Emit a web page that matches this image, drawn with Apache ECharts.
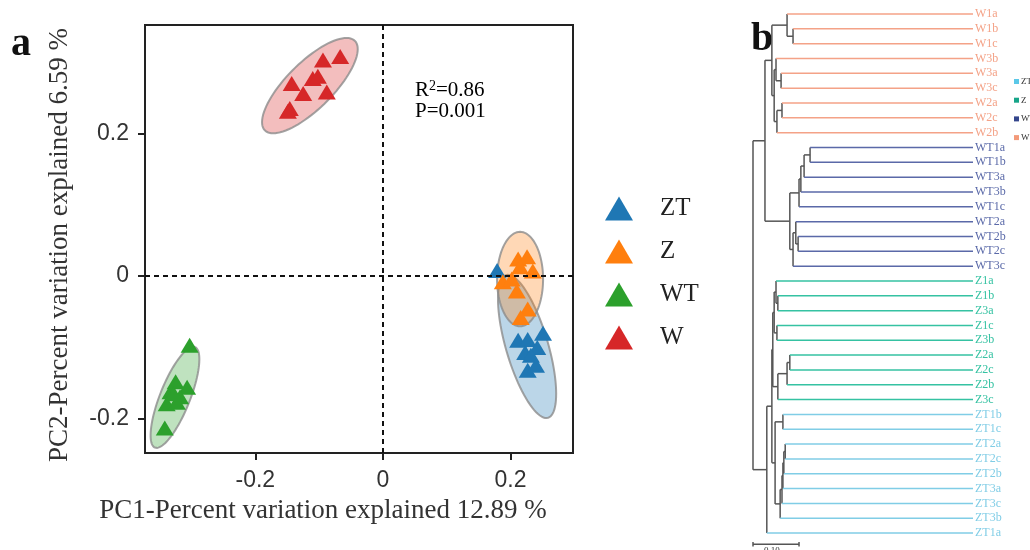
<!DOCTYPE html>
<html>
<head>
<meta charset="utf-8">
<script src="https://cdn.jsdelivr.net/npm/echarts@6/dist/echarts.min.js"></script>
<style>
html,body{margin:0;padding:0;background:#fff;}
#main{width:1030px;height:550px;}
</style>
</head>
<body>
<div id="main"></div>
<script>
// ---- panel a : PCA ----
var groups = ['ZT', 'Z', 'WT', 'W'];
var groupColors = ['#1f77b4', '#ff7f0e', '#2ca02c', '#d62728'];

var ptsZT = [[0.179,0.008],[0.212,-0.090],[0.227,-0.089],[0.251,-0.080],[0.223,-0.107],[0.242,-0.100],[0.227,-0.132],[0.240,-0.125],[0.232,-0.111]];
var ptsZ  = [[0.212,0.024],[0.226,0.027],[0.215,0.013],[0.235,0.007],[0.188,-0.008],[0.202,-0.004],[0.210,-0.021],[0.227,-0.046],[0.216,-0.058]];
var ptsWT = [[-0.303,-0.097],[-0.325,-0.148],[-0.307,-0.156],[-0.333,-0.162],[-0.318,-0.169],[-0.339,-0.179],[-0.323,-0.177],[-0.328,-0.165],[-0.342,-0.213]];
var ptsW  = [[-0.067,0.308],[-0.094,0.303],[-0.110,0.277],[-0.102,0.280],[-0.143,0.270],[-0.125,0.256],[-0.088,0.258],[-0.146,0.235],[-0.149,0.231]];

// ellipse: centre x, centre y, major half-axis (dx,dy), minor half-axis (dx,dy)
var ellZT = [0.226, -0.0986, 0.0329, -0.100, 0.0316, 0.0084];
var ellZ  = [0.215, -0.0042, 0.0, 0.0662, 0.0361, 0.0];
var ellWT = [-0.326, -0.170, 0.0314, 0.0704, 0.0218, -0.0079];
var ellW  = [-0.1145, 0.267, 0.0706, 0.0627, 0.0254, -0.0231];

var xTicks = [-0.2, 0, 0.2];
var yTicks = [-0.2, 0, 0.2];

// ---- panel b : dendrogram ----
var leaves = ['W1a','W1b','W1c','W3b','W3a','W3c','W2a','W2c','W2b',
  'WT1a','WT1b','WT3a','WT3b','WT1c','WT2a','WT2b','WT2c','WT3c',
  'Z1a','Z1b','Z3a','Z1c','Z3b','Z2a','Z2c','Z2b','Z3c',
  'ZT1b','ZT1c','ZT2a','ZT2c','ZT2b','ZT3a','ZT3c','ZT3b','ZT1a'];
// [node, child, child, distance from root]
var treeNodes = [
  ['w1bc','W1b','W1c',0.087],
  ['w1','W1a','w1bc',0.074],
  ['w3ac','W3a','W3c',0.061],
  ['w3','W3b','w3ac',0.050],
  ['w2ac','W2a','W2c',0.063],
  ['w2','w2ac','W2b',0.052],
  ['w32','w3','w2',0.046],
  ['wRoot','w1','w32',0.041],
  ['wt1ab','WT1a','WT1b',0.124],
  ['wt1ab3a','wt1ab','WT3a',0.111],
  ['wtc','wt1ab3a','WT3b',0.104],
  ['wtd','wtc','WT1c',0.100],
  ['wt2bc','WT2b','WT2c',0.098],
  ['wt2','WT2a','wt2bc',0.093],
  ['wtg','wt2','WT3c',0.087],
  ['wtRoot','wtd','wtg',0.080],
  ['wwt','wRoot','wtRoot',0.026],
  ['z1','Z1b','Z3a',0.054],
  ['z2','Z1a','z1',0.050],
  ['z3','Z1c','Z3b',0.052],
  ['z4','z2','z3',0.046],
  ['z5','Z2a','Z2c',0.080],
  ['z6','z5','Z2b',0.074],
  ['z7','z6','Z3c',0.054],
  ['zRoot','z4','z7',0.043],
  ['t1','ZT1b','ZT1c',0.065],
  ['t2','ZT2a','ZT2c',0.070],
  ['t3','t2','ZT2b',0.067],
  ['t4','t3','ZT3a',0.065],
  ['t5','t4','ZT3c',0.063],
  ['t6','t5','ZT3b',0.059],
  ['tRoot','t1','t6',0.048],
  ['zzt','zRoot','tRoot',0.041],
  ['zzt1','zzt','ZT1a',0.030],
  ['root','wwt','zzt1',0]
];
var treeTip = 0.478;
var scaleBar = 0.10;
var treeColors = {W:'#f4a287', WT:'#5a69a8', Z:'#35c2a2', ZT:'#80cde6'};
var treeLegendNames = ['ZT','Z','WT','W'];
var treeLegendColors = ['#5bc8e8','#17a589','#34468c','#f39a7a'];

function groupOf(name) {
  if (name.indexOf('ZT') === 0) return 'ZT';
  if (name.indexOf('WT') === 0) return 'WT';
  return name.charAt(0);
}
function rgba(hex, a) {
  var n = parseInt(hex.slice(1), 16);
  return 'rgba(' + (n >> 16) + ',' + ((n >> 8) & 255) + ',' + (n & 255) + ',' + a + ')';
}

// build tree segments
var nodeMap = {};
treeNodes.forEach(function (n) { nodeMap[n[0]] = n; });
var yCache = {};
function yOf(id) {
  if (yCache[id] !== undefined) return yCache[id];
  var v;
  if (nodeMap[id]) v = (yOf(nodeMap[id][1]) + yOf(nodeMap[id][2])) / 2;
  else v = leaves.indexOf(id);
  yCache[id] = v;
  return v;
}
var segs = []; // x1,y1,x2,y2,color
treeNodes.forEach(function (n) {
  var d = n[3];
  segs.push([d, yOf(n[1]), d, yOf(n[2]), '#555']);
  [n[1], n[2]].forEach(function (c) {
    if (nodeMap[c]) segs.push([d, yOf(c), nodeMap[c][3], yOf(c), '#555']);
    else segs.push([d, yOf(c), treeTip, yOf(c), treeColors[groupOf(c)]]);
  });
});
var barY = leaves.length - 1 + 0.75;
segs.push([0, barY, scaleBar, barY, '#555']);
segs.push([0, barY - 0.15, 0, barY + 0.15, '#555']);
segs.push([scaleBar, barY - 0.15, scaleBar, barY + 0.15, '#555']);

var ellipses = [ellZT, ellZ, ellWT, ellW];
var points = [ptsZT, ptsZ, ptsWT, ptsW];

var chart = echarts.init(document.getElementById('main'));

var series = [{
  type: 'custom',
  name: 'ellipse',
  xAxisIndex: 0, yAxisIndex: 0,
  z: 1,
  data: ellipses,
  renderItem: function (params, api) {
    var e = ellipses[params.dataIndex];
    var pts = [];
    for (var k = 0; k < 90; k++) {
      var t = k / 90 * Math.PI * 2;
      pts.push(api.coord([
        e[0] + Math.cos(t) * e[2] + Math.sin(t) * e[4],
        e[1] + Math.cos(t) * e[3] + Math.sin(t) * e[5]
      ]));
    }
    return {
      type: 'polygon',
      shape: { points: pts },
      style: { fill: rgba(groupColors[params.dataIndex], 0.3), stroke: 'rgba(140,140,140,0.8)', lineWidth: 2 }
    };
  }
}];
for (var i = 0; i < groups.length; i++) {
  series.push({
    type: 'scatter',
    name: groups[i],
    xAxisIndex: 0, yAxisIndex: 0,
    z: 3,
    symbol: 'triangle',
    symbolSize: [18, 15],
    itemStyle: { color: groupColors[i], opacity: 1 },
    data: points[i]
  });
}
series.push({
  type: 'scatter',
  name: 'zero',
  xAxisIndex: 0, yAxisIndex: 0,
  z: 5,
  data: [],
  markLine: {
    silent: true,
    symbol: 'none',
    label: { show: false },
    lineStyle: { color: '#111', type: [5, 4], width: 2 },
    data: [{ xAxis: 0 }, { yAxis: 0 }]
  }
});
series.push({
  type: 'custom',
  name: 'tree',
  xAxisIndex: 1, yAxisIndex: 1,
  data: segs,
  renderItem: function (params, api) {
    var s = segs[params.dataIndex];
    var p1 = api.coord([s[0], s[1]]);
    var p2 = api.coord([s[2], s[3]]);
    return {
      type: 'line',
      shape: { x1: p1[0], y1: p1[1], x2: p2[0], y2: p2[1] },
      style: { stroke: s[4], lineWidth: 1.5 }
    };
  }
});

var serif = 'Liberation Serif';
var sans = 'Liberation Sans';

var option = {
  backgroundColor: '#fff',
  animation: false,
  grid: [
    { left: 145, top: 25, width: 428, height: 428, show: true, borderColor: '#222', borderWidth: 2, backgroundColor: 'transparent' },
    { left: 753, top: 6.6, width: 220, height: 533.9 }
  ],
  xAxis: [{
    gridIndex: 0, type: 'value', min: -0.373, max: 0.298,
    name: 'PC1-Percent variation explained 12.89 %',
    nameLocation: 'middle', nameGap: 44,
    nameTextStyle: { fontFamily: serif, fontSize: 27, color: '#333', padding: [0, 72, 0, 0] },
    axisLine: { show: true, onZero: false, lineStyle: { color: '#222', width: 2 } },
    axisTick: { show: true, length: 7, lineStyle: { color: '#222', width: 2 }, customValues: xTicks },
    axisLabel: { fontFamily: sans, fontSize: 23, color: '#333', margin: 16, customValues: xTicks },
    splitLine: { show: false }
  }, {
    gridIndex: 1, type: 'value', min: 0, max: treeTip, show: false
  }],
  yAxis: [{
    gridIndex: 0, type: 'value', min: -0.248, max: 0.352,
    name: 'PC2-Percent variation explained 6.59 %',
    nameLocation: 'middle', nameGap: 72, nameRotate: 90,
    nameTextStyle: { fontFamily: serif, fontSize: 27, color: '#333', padding: [0, 12, 0, 0] },
    axisLine: { show: true, onZero: false, lineStyle: { color: '#222', width: 2 } },
    axisTick: { show: true, length: 7, lineStyle: { color: '#222', width: 2 }, customValues: yTicks },
    axisLabel: { fontFamily: sans, fontSize: 23, color: '#333', margin: 16, customValues: yTicks },
    splitLine: { show: false }
  }, {
    gridIndex: 1, type: 'value', min: -0.5, max: leaves.length - 0.5, inverse: true, show: false
  }, {
    gridIndex: 1, type: 'category', position: 'right', inverse: true, data: leaves,
    axisLine: { show: false }, axisTick: { show: false }, splitLine: { show: false },
    axisLabel: {
      interval: 0, margin: 2, fontFamily: serif, fontSize: 12,
      color: function (val) { return treeColors[groupOf(val)]; }
    }
  }],
  legend: [{
    data: groups,
    orient: 'vertical',
    left: 600, top: 191,
    itemWidth: 28, itemHeight: 24, itemGap: 18,
    icon: 'triangle',
    textStyle: { fontFamily: serif, fontSize: 25, color: '#222', padding: [0, 0, 0, 22] }
  }, {
    data: treeLegendNames.map(function (n, i) {
      return { name: n, icon: 'rect', itemStyle: { color: treeLegendColors[i] } };
    }),
    orient: 'vertical',
    left: 1009, top: 72,
    itemWidth: 5, itemHeight: 5, itemGap: 9.7,
    selectedMode: false,
    textStyle: { fontFamily: serif, fontSize: 9, color: '#333', padding: [0, 0, 0, -3] }
  }],
  graphic: [
    { type: 'text', left: 11, top: 25, style: { text: 'a', font: 'bold 40px "Liberation Serif"', fill: '#111' } },
    { type: 'text', left: 751, top: 20, style: { text: 'b', font: 'bold 40px "Liberation Serif"', fill: '#111' } },
    { type: 'text', left: 415, top: 79, style: {
      text: '{n|R}{s|2}{n|=0.86}\n{n|P=0.001}',
      rich: {
        n: { fontFamily: serif, fontSize: 21, color: '#222', lineHeight: 19 },
        s: { fontFamily: serif, fontSize: 14, color: '#222', padding: [0, 0, 9, 0] }
      }
    } },
    { type: 'text', left: 764, top: 546, style: { text: '0.10', font: '9px "Liberation Serif"', fill: '#333' } }
  ],
  series: series
};
chart.setOption(option);
</script>
</body>
</html>
